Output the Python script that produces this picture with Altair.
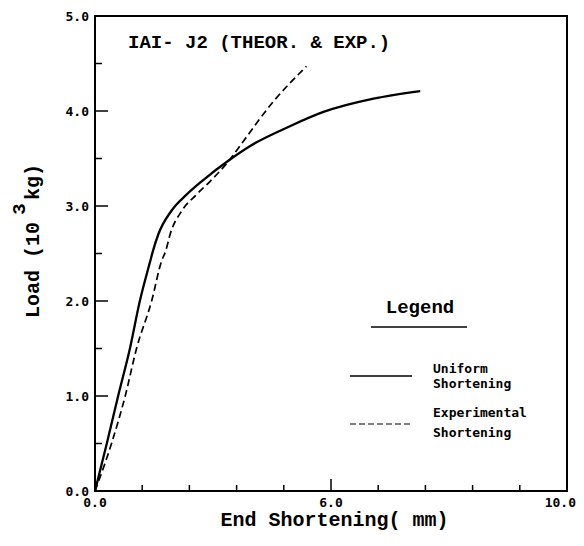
import altair as alt
import pandas as pd

# Data
solid_x = [0, 0.25, 0.49, 0.74, 0.95, 1.17, 1.23, 1.34, 1.62, 1.94, 2.26, 2.86, 3.28, 4.13, 4.84, 5.90, 6.89]
solid_y = [0, 0.50, 1.00, 1.50, 2.00, 2.42, 2.53, 2.70, 2.95, 3.12, 3.26, 3.49, 3.63, 3.84, 3.99, 4.13, 4.21]

dashed_x = [0, 0.35, 0.64, 0.88, 1.20, 1.41, 1.50, 1.59, 1.84, 2.15, 2.44, 2.86, 3.14, 3.78, 4.48]
dashed_y = [0, 0.50, 1.00, 1.50, 2.00, 2.42, 2.53, 2.70, 2.95, 3.12, 3.26, 3.49, 3.68, 4.10, 4.47]

x_label_values = [0, 5]
x_label_texts = ["0.0", "6.0"]
x_last_value = [10]
x_last_text = ["10.0"]
y_label_values = [0, 1, 2, 3, 4, 5]
y_label_texts = ["0.0", "1.0", "2.0", "3.0", "4.0", "5.0"]
x_minor_ticks = [1, 2, 3, 4, 6, 7, 8, 9]
x_major_ticks = [5]
y_major_ticks = [1, 2, 3, 4]
y_minor_ticks = [0.5, 1.5, 2.5, 3.5, 4.5]

FONT = "Liberation Mono"
LFONT = "DejaVu Sans Mono"

solid = pd.DataFrame({"x": solid_x, "y": solid_y, "i": range(len(solid_x))})
dashed = pd.DataFrame({"x": dashed_x, "y": dashed_y, "i": range(len(dashed_x))})

xscale = alt.Scale(domain=[0, 10], nice=False, zero=False)
yscale = alt.Scale(domain=[0, 5], nice=False, zero=False)

solid_line = alt.Chart(solid).mark_line(color="black", strokeWidth=2.3, interpolate="monotone").encode(
    x=alt.X("x:Q", scale=xscale, axis=None),
    y=alt.Y("y:Q", scale=yscale, axis=None),
    order="i:Q",
)
dashed_line = alt.Chart(dashed).mark_line(color="black", strokeWidth=1.7, strokeDash=[7, 4], interpolate="monotone").encode(
    x=alt.X("x:Q", scale=xscale),
    y=alt.Y("y:Q", scale=yscale),
    order="i:Q",
)

H = 475

# inward ticks
xt_minor = alt.Chart(pd.DataFrame({"x": x_minor_ticks})).mark_rule(color="black", strokeWidth=1.5).encode(
    x=alt.X("x:Q", scale=xscale), y=alt.value(H), y2=alt.value(H - 6))
xt_major = alt.Chart(pd.DataFrame({"x": x_major_ticks})).mark_rule(color="black", strokeWidth=1.5).encode(
    x=alt.X("x:Q", scale=xscale), y=alt.value(H), y2=alt.value(H - 12))
yt_major = alt.Chart(pd.DataFrame({"y": y_major_ticks})).mark_rule(color="black", strokeWidth=1.5).encode(
    y=alt.Y("y:Q", scale=yscale), x=alt.value(0), x2=alt.value(13))
yt_minor = alt.Chart(pd.DataFrame({"y": y_minor_ticks})).mark_rule(color="black", strokeWidth=1.5).encode(
    y=alt.Y("y:Q", scale=yscale), x=alt.value(0), x2=alt.value(7))

# tick labels
xlab = alt.Chart(pd.DataFrame({"v": x_label_values, "t": x_label_texts})).mark_text(
    font=LFONT, fontSize=13, fontWeight="bold", color="black", align="center", baseline="alphabetic"
).encode(x=alt.X("v:Q", scale=xscale), y=alt.value(H + 16), text="t:N")
xlab_last = alt.Chart(pd.DataFrame({"v": x_last_value, "t": x_last_text})).mark_text(
    font=LFONT, fontSize=13, fontWeight="bold", color="black", align="right", baseline="alphabetic", dx=9
).encode(x=alt.X("v:Q", scale=xscale), y=alt.value(H + 16), text="t:N")
ylab = alt.Chart(pd.DataFrame({"v": y_label_values, "t": y_label_texts})).mark_text(
    font=LFONT, fontSize=13, fontWeight="bold", color="black", align="right", baseline="middle", dy=1
).encode(y=alt.Y("v:Q", scale=yscale), x=alt.value(-6), text="t:N")

def text(t, x, y, size, align="left", baseline="alphabetic", angle=0, weight="bold", font=FONT):
    return alt.Chart(pd.DataFrame({"t": [t]})).mark_text(
        font=font, fontSize=size, fontWeight=weight, color="black",
        align=align, baseline=baseline, angle=angle,
    ).encode(text="t:N", x=alt.value(x), y=alt.value(y))

title = text("IAI- J2 (THEOR. & EXP.)", 33, 32, 19)
legend_title = text("Legend", 325, 297, 19, align="center")
legend_under = alt.Chart(pd.DataFrame({"a": [0]})).mark_rule(color="black", strokeWidth=1.5).encode(
    x=alt.value(276), x2=alt.value(372), y=alt.value(311))
leg_solid = alt.Chart(pd.DataFrame({"a": [0]})).mark_rule(color="black", strokeWidth=1.5).encode(
    x=alt.value(255), x2=alt.value(317), y=alt.value(360))
leg_dash = alt.Chart(pd.DataFrame({"a": [0]})).mark_rule(color="black", strokeWidth=1.2, strokeDash=[6, 3]).encode(
    x=alt.value(255), x2=alt.value(317), y=alt.value(408))
t1 = text("Uniform", 338, 357, 13, font=LFONT)
t2 = text("Shortening", 338, 372, 13, font=LFONT)
t3 = text("Experimental", 338, 401, 13, font=LFONT)
t4 = text("Shortening", 338, 421, 13, font=LFONT)

xtitle = text("End Shortening( mm)", 239.5, 510, 20, align="center")
ytitle1 = text("Load (10", -62, 302, 20, align="left", baseline="middle", angle=270)
ytitle2 = text("3", -76, 193, 19, align="center", baseline="middle", angle=270)
ytitle3 = text("kg)", -62, 184, 20, align="left", baseline="middle", angle=270)

chart = alt.layer(
    solid_line, dashed_line, xt_minor, xt_major, yt_major, yt_minor,
    xlab, xlab_last, ylab,
    title, legend_title, legend_under, leg_solid, leg_dash, t1, t2, t3, t4,
    xtitle, ytitle1, ytitle2, ytitle3,
).properties(
    width=472, height=H,
    autosize=alt.AutoSizeParams(type="none"),
    padding={"left": 87, "top": 8, "right": 9, "bottom": 40},
    background="white",
).configure_view(stroke="black", strokeWidth=2)

chart.save("out.html", embed_options={"renderer": "svg", "actions": False})
